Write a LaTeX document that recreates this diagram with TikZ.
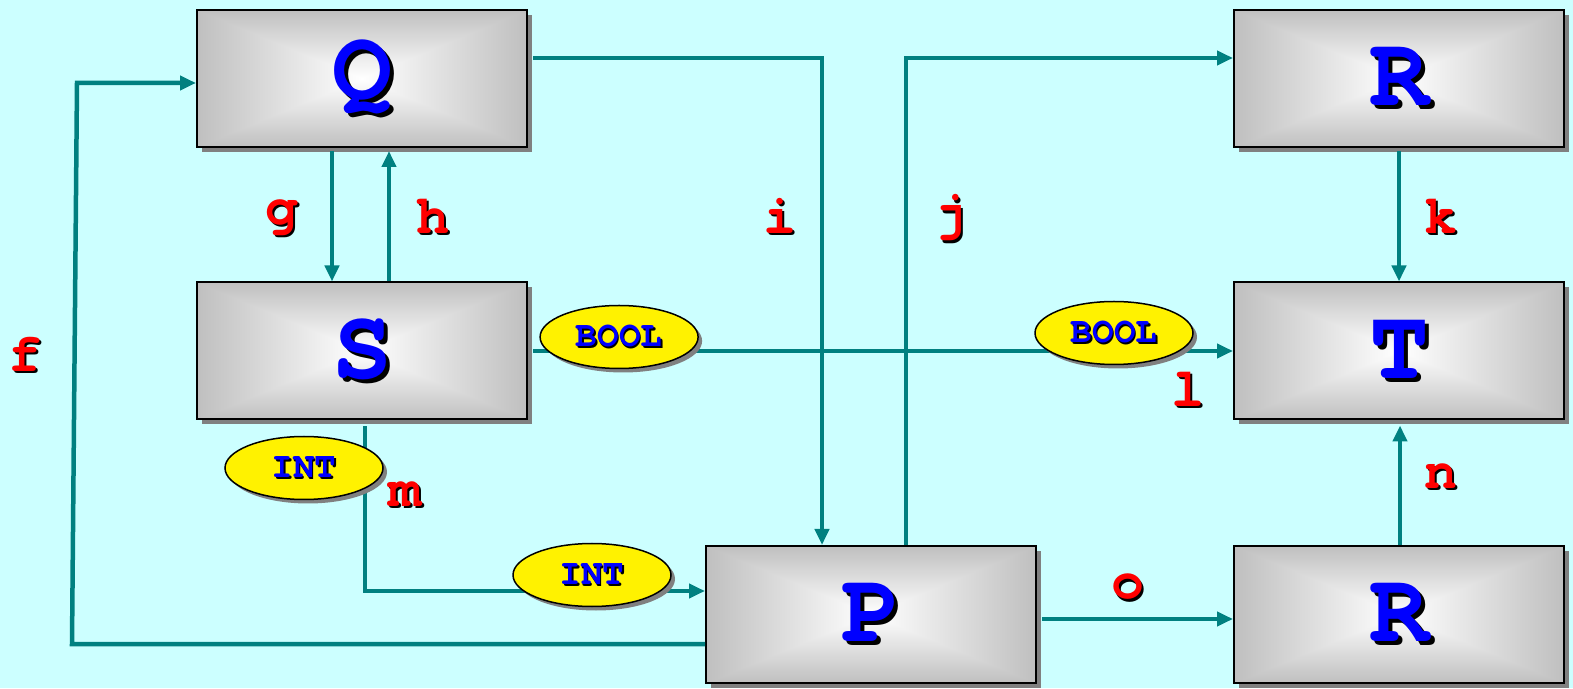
\documentclass[tikz,border=0pt]{standalone}
\usepackage{fontspec}
\setmonofont{TeX Gyre Cursor}
\usepackage{xcolor}
\usetikzlibrary{shapes.geometric, arrows.meta, positioning, shadows}
\definecolor{paneblue}{RGB}{204,255,255}
\definecolor{wireteal}{RGB}{0,128,128}
\definecolor{shadowgray}{RGB}{128,128,128}

% light centre, fading to grey towards every edge
\pgfdeclarefunctionalshading{boxglow}{\pgfpoint{-50bp}{-50bp}}{\pgfpoint{50bp}{50bp}}{}{
  abs exch abs 2 copy lt {exch} if pop 25 div
  dup 1 gt {pop 1} if 0.25 mul 1 exch sub dup dup
}

% coloured letters with a black copy behind them
\newcommand{\shadowed}[2]{\makebox[0pt][l]{\hspace{0.04em}\raisebox{-0.04em}{\color{black}#2}}{\color{#1}#2}}

\begin{document}
\begin{tikzpicture}[
    x=1pt, y=1pt,
    block/.style={rectangle, draw=black, line width=2pt, shade, shading=boxglow,
        minimum width=330pt, minimum height=137pt,
        drop shadow={shadow xshift=5pt, shadow yshift=-5pt, fill=shadowgray, opacity=1},
        font=\fontsize{100}{100}\selectfont\ttfamily\bfseries},
    tag/.style={ellipse, draw=black, line width=1.5pt, fill=yellow, inner sep=0pt,
        minimum width=158pt, minimum height=63pt,
        drop shadow={shadow xshift=4pt, shadow yshift=-4pt, fill=shadowgray, opacity=1},
        font=\fontsize{36}{36}\selectfont\ttfamily\bfseries},
    wirelabel/.style={inner sep=0pt, font=\fontsize{55}{55}\selectfont\ttfamily\bfseries},
    flow/.style={->, >={Triangle[length=16pt, width=14pt]}, line width=4.5pt, wireteal}
]
\useasboundingbox[fill=paneblue] (0,0) rectangle (1573,688);

% blocks
\node[block] (Q) at (362,609.5) {\shadowed{blue}{Q}};
\node[block] (S) at (362,337) {\shadowed{blue}{S}};
\node[block] (P) at (871,73.5) {\shadowed{blue}{P}};
\node[block] (Rtop) at (1399,609.5) {\shadowed{blue}{R}};
\node[block] (T) at (1399,337) {\shadowed{blue}{T}};
\node[block] (Rbot) at (1399,73.5) {\shadowed{blue}{R}};

% connections
\draw[flow] ([xshift=5pt,yshift=20.5pt]Q.east) -| ([xshift=-49pt]P.north);
\draw[flow] ([xshift=35pt]P.north) |- ([yshift=20.5pt]Rtop.west);
\draw[flow] ([xshift=-30pt,yshift=-3pt]Q.south) -- ([xshift=-30pt]S.north);
\draw[flow, shorten >=3pt] ([xshift=27pt]S.north) -- ([xshift=27pt]Q.south);
\draw[flow] ([yshift=-3pt]Rtop.south) -- (T.north);
\draw[flow] ([xshift=5pt]S.east) -- (T.west)
    node[tag, pos=0.123, yshift=14pt] (bool1) {\shadowed{blue}{BOOL}}
    node[tag, pos=0.83, yshift=18pt] (bool2) {\shadowed{blue}{BOOL}};
\draw[flow] ([xshift=3pt,yshift=-6pt]S.south) |- ([yshift=23.5pt]P.west);
\draw[flow] ([xshift=5pt,yshift=-4.5pt]P.east) -- ([yshift=-4.5pt]Rbot.west);
\draw[flow, shorten >=5pt] ([xshift=1pt]Rbot.north) -- ([xshift=1pt]T.south);

% feedback loop round the left side
\coordinate (fbot) at (72,44);
\coordinate (ftop) at (77,605);
\draw[flow] ([yshift=-29.5pt]P.west) -- (fbot) -- (ftop) -- ([yshift=-4.5pt]Q.west);

% data types
\node[tag] (int1) at (304,220) {\shadowed{blue}{INT}};
\node[tag] (int2) at (592,113) {\shadowed{blue}{INT}};

% wire names
\foreach \txt/\px/\py in {f/25/333, g/282/469, h/433/471, i/780/471, j/951/469,
    k/1441/471, l/1188/298, m/405/193, n/1441/211, o/1128/100} {
    \node[wirelabel] (lbl\txt) at (\px,\py) {\shadowed{red}{\txt}};
}
\end{tikzpicture}
\end{document}
